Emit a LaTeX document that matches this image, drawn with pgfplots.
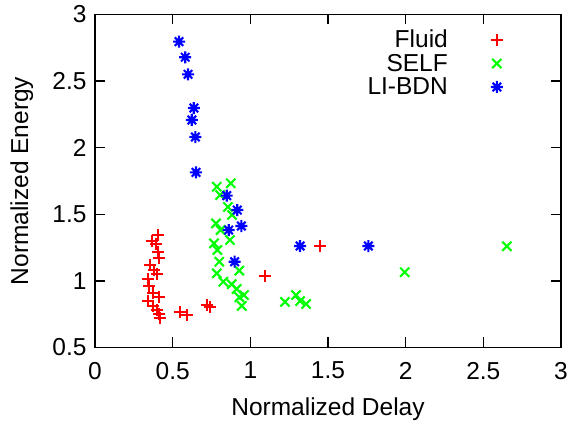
\documentclass[border=0pt]{standalone}
\usepackage{fontspec}
\setmainfont{Liberation Sans}
\usepackage{pgfplots}
\pgfplotsset{compat=1.18}

% gnuplot style asterisk: plus and cross together
\pgfdeclareplotmark{plusx}{%
  \pgfpathmoveto{\pgfqpoint{-\pgfplotmarksize}{0pt}}%
  \pgfpathlineto{\pgfqpoint{\pgfplotmarksize}{0pt}}%
  \pgfpathmoveto{\pgfqpoint{0pt}{-\pgfplotmarksize}}%
  \pgfpathlineto{\pgfqpoint{0pt}{\pgfplotmarksize}}%
  \pgfpathmoveto{\pgfpointpolar{45}{\pgfplotmarksize}}%
  \pgfpathlineto{\pgfpointpolar{225}{\pgfplotmarksize}}%
  \pgfpathmoveto{\pgfpointpolar{135}{\pgfplotmarksize}}%
  \pgfpathlineto{\pgfpointpolar{315}{\pgfplotmarksize}}%
  \pgfusepathqstroke}

\definecolor{gred}{RGB}{255,0,0}
\definecolor{ggreen}{RGB}{0,255,0}
\definecolor{gblue}{RGB}{0,0,255}

\begin{document}
\begin{tikzpicture}
\begin{axis}[
  at={(0,0)}, anchor=south west,
  scale only axis, width=466bp, height=333bp,
  xmin=0, xmax=3, ymin=0.5, ymax=3,
  xtick={0,0.5,...,3}, ytick={0.5,1,...,3},
  font=\fontsize{24.5bp}{29bp}\selectfont,
  /pgf/number format/assume math mode=true,
  axis line style={line width=1.4bp},
  major tick length=10bp,
  tick style={line width=1.2bp, black},
  xticklabel style={yshift=-11bp},
  yticklabel style={xshift=-5bp},
  xlabel={Normalized Delay}, ylabel={Normalized Energy},
  xlabel style={at={(axis description cs:0.5,-0.185)}, anchor=center},
  ylabel style={at={(axis description cs:-0.157,0.5)}, anchor=center},
  legend plot pos=right, legend cell align=right,
  legend style={draw=none, fill=none, at={(rel axis cs:0.882,0.966)}, anchor=north east,
    row sep=1bp, font=\fontsize{24.5bp}{29bp}\selectfont,
    /tikz/every odd column/.append style={column sep=41bp}},
]
\addplot[only marks, mark=+, mark size=6bp, gred, line width=2.1bp] coordinates {
(0.408,1.345) (0.365,1.302) (0.393,1.277) (0.408,1.219) (0.414,1.170)
(0.354,1.119) (0.380,1.082) (0.401,1.052) (0.339,1.012) (0.350,0.962)
(0.375,0.911) (0.414,0.881) (0.343,0.849) (0.375,0.812) (0.401,0.782)
(0.410,0.750) (0.419,0.719) (0.547,0.769) (0.590,0.744) (0.719,0.819)
(0.740,0.806) (1.095,1.035) (1.449,1.262)
};
\addlegendentry{Fluid}
\addplot[only marks, mark=x, mark size=6.5bp, ggreen, line width=2.1bp] coordinates {
(0.784,1.707) (0.874,1.733) (0.805,1.645) (0.856,1.555) (0.882,1.495)
(0.779,1.432) (0.809,1.382) (0.869,1.307) (0.766,1.282) (0.788,1.232)
(0.800,1.144) (0.929,1.077) (0.784,1.057) (0.826,0.994) (0.880,0.975)
(0.912,0.939) (0.959,0.894) (0.929,0.877) (0.945,0.812) (1.223,0.842)
(1.294,0.894) (1.320,0.849) (1.359,0.827) (1.994,1.065) (2.651,1.260)
};
\addlegendentry{SELF}
\addplot[only marks, mark=plusx, mark size=6bp, gblue, line width=2.1bp] coordinates {
(0.541,2.796) (0.581,2.679) (0.599,2.551) (0.636,2.298) (0.623,2.208)
(0.646,2.080) (0.650,1.815) (0.848,1.640) (0.916,1.532) (0.861,1.382)
(0.942,1.412) (0.899,1.144) (1.320,1.262) (1.760,1.262)
};
\addlegendentry{LI-BDN}
\end{axis}
\pgfresetboundingbox
\path[use as bounding box] (-95bp,-80.5bp) rectangle (476bp,347.5bp);
\end{tikzpicture}
\end{document}
